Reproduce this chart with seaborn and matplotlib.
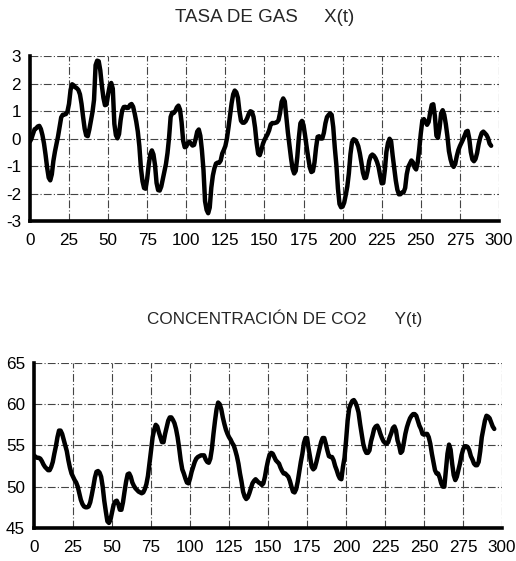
import numpy as np
import pandas as pd
import matplotlib
matplotlib.use("Agg")
import matplotlib.pyplot as plt
import seaborn as sns

# Gas furnace series: input gas rate X(t) and output CO2 concentration Y(t)
gas_rate = [
    -0.109, 0.000, 0.178, 0.339, 0.373, 0.441, 0.461, 0.348, 0.127, -0.180,
    -0.588, -1.055, -1.421, -1.520, -1.302, -0.814, -0.475, -0.193, 0.088, 0.435,
    0.771, 0.866, 0.875, 0.891, 0.987, 1.263, 1.775, 1.976, 1.934, 1.866,
    1.832, 1.767, 1.608, 1.265, 0.790, 0.360, 0.115, 0.088, 0.331, 0.645,
    0.960, 1.409, 2.670, 2.834, 2.812, 2.483, 1.929, 1.485, 1.214, 1.239,
    1.608, 1.905, 2.023, 1.815, 0.535, 0.122, 0.009, 0.164, 0.671, 1.019,
    1.146, 1.155, 1.112, 1.121, 1.223, 1.257, 1.157, 0.913, 0.620, 0.255,
    -0.280, -1.080, -1.551, -1.799, -1.825, -1.456, -0.944, -0.570, -0.431, -0.577,
    -0.960, -1.616, -1.875, -1.891, -1.746, -1.474, -1.201, -0.927, -0.524, 0.040,
    0.788, 0.943, 0.930, 1.006, 1.137, 1.198, 1.054, 0.595, -0.080, -0.314,
    -0.288, -0.153, -0.109, -0.187, -0.255, -0.229, -0.007, 0.254, 0.330, 0.102,
    -0.423, -1.139, -2.275, -2.594, -2.716, -2.510, -1.790, -1.346, -1.081, -0.910,
    -0.876, -0.885, -0.800, -0.544, -0.416, -0.271, 0.000, 0.403, 0.841, 1.285,
    1.607, 1.746, 1.683, 1.485, 0.993, 0.648, 0.577, 0.577, 0.632, 0.747,
    0.900, 0.993, 0.968, 0.790, 0.399, -0.161, -0.553, -0.603, -0.424, -0.194,
    -0.049, 0.060, 0.161, 0.301, 0.517, 0.566, 0.560, 0.573, 0.592, 0.671,
    0.933, 1.337, 1.460, 1.353, 0.772, 0.218, -0.237, -0.714, -1.099, -1.269,
    -1.175, -0.676, 0.033, 0.556, 0.643, 0.484, 0.109, -0.310, -0.697, -1.047,
    -1.218, -1.183, -0.873, -0.336, 0.063, 0.084, 0.000, 0.001, 0.209, 0.556,
    0.782, 0.858, 0.918, 0.862, 0.416, -0.336, -0.959, -1.813, -2.378, -2.499,
    -2.473, -2.330, -2.053, -1.739, -1.261, -0.569, -0.137, -0.024, -0.050, -0.135,
    -0.276, -0.534, -0.871, -1.243, -1.439, -1.422, -1.175, -0.813, -0.634, -0.582,
    -0.625, -0.713, -0.848, -1.039, -1.346, -1.628, -1.619, -1.149, -0.488, -0.160,
    -0.007, -0.092, -0.620, -1.086, -1.525, -1.858, -2.029, -2.024, -1.961, -1.952,
    -1.794, -1.302, -1.030, -0.918, -0.798, -0.867, -1.047, -1.123, -0.876, -0.395,
    0.185, 0.662, 0.709, 0.605, 0.501, 0.603, 0.943, 1.223, 1.249, 0.824,
    0.102, 0.025, 0.382, 0.922, 1.032, 0.866, 0.527, 0.093, -0.458, -0.748,
    -0.947, -1.029, -0.928, -0.645, -0.424, -0.276, -0.158, -0.033, 0.102, 0.251,
    0.280, 0.000, -0.493, -0.759, -0.824, -0.740, -0.528, -0.204, 0.034, 0.204,
    0.253, 0.195, 0.131, 0.017, -0.182, -0.262,
]

co2 = [
    53.8, 53.6, 53.5, 53.5, 53.4, 53.1, 52.7, 52.4, 52.2, 52.0,
    52.0, 52.4, 53.0, 54.0, 54.9, 56.0, 56.8, 56.8, 56.4, 55.7,
    55.0, 54.3, 53.2, 52.3, 51.6, 51.2, 50.8, 50.5, 50.0, 49.2,
    48.4, 47.9, 47.6, 47.5, 47.5, 47.6, 48.1, 49.0, 50.0, 51.1,
    51.8, 51.9, 51.7, 51.2, 50.0, 48.3, 47.0, 45.8, 45.6, 46.0,
    46.9, 47.8, 48.2, 48.3, 47.9, 47.2, 47.2, 48.1, 49.4, 50.6,
    51.5, 51.6, 51.2, 50.5, 50.1, 49.8, 49.6, 49.4, 49.3, 49.2,
    49.3, 49.7, 50.3, 51.3, 52.8, 54.4, 56.0, 56.9, 57.5, 57.3,
    56.6, 56.0, 55.4, 55.4, 56.4, 57.2, 58.0, 58.4, 58.4, 58.1,
    57.7, 57.0, 56.0, 54.7, 53.2, 52.1, 51.6, 51.0, 50.5, 50.4,
    51.0, 51.8, 52.4, 53.0, 53.4, 53.6, 53.7, 53.8, 53.8, 53.8,
    53.3, 53.0, 52.9, 53.4, 54.6, 56.4, 58.0, 59.4, 60.2, 60.0,
    59.4, 58.4, 57.6, 56.9, 56.4, 56.0, 55.7, 55.3, 55.0, 54.4,
    53.7, 52.8, 51.6, 50.6, 49.4, 48.8, 48.5, 48.7, 49.2, 49.8,
    50.4, 50.7, 50.9, 50.7, 50.5, 50.4, 50.2, 50.4, 51.2, 52.3,
    53.2, 53.9, 54.1, 54.0, 53.6, 53.2, 53.0, 52.8, 52.3, 51.9,
    51.6, 51.6, 51.4, 51.2, 50.7, 50.0, 49.4, 49.3, 49.7, 50.6,
    51.8, 53.0, 54.0, 55.3, 55.9, 55.9, 54.6, 53.5, 52.4, 52.1,
    52.3, 53.0, 53.8, 54.6, 55.4, 55.9, 55.9, 55.2, 54.4, 53.7,
    53.6, 53.6, 53.2, 52.5, 52.0, 51.4, 51.0, 50.9, 52.4, 53.5,
    55.6, 58.0, 59.5, 60.0, 60.4, 60.5, 60.2, 59.7, 59.0, 57.6,
    56.4, 55.2, 54.5, 54.1, 54.1, 54.4, 55.5, 56.2, 57.0, 57.3,
    57.4, 57.0, 56.4, 55.9, 55.5, 55.3, 55.2, 55.4, 56.0, 56.5,
    57.1, 57.3, 56.8, 55.6, 55.0, 54.1, 54.3, 55.3, 56.4, 57.2,
    57.8, 58.3, 58.6, 58.8, 58.8, 58.6, 58.0, 57.4, 57.0, 56.4,
    56.3, 56.4, 56.4, 56.0, 55.2, 54.0, 53.0, 52.0, 51.6, 51.6,
    51.1, 50.4, 50.0, 50.0, 52.0, 54.0, 55.1, 54.5, 52.8, 51.4,
    50.8, 51.2, 52.0, 52.8, 53.8, 54.5, 54.9, 54.9, 54.8, 54.4,
    53.7, 53.3, 52.8, 52.6, 52.6, 53.0, 54.3, 56.0, 57.0, 58.0,
    58.6, 58.5, 58.3, 57.8, 57.3, 57.0,
]

x_ticks = [0, 25, 50, 75, 100, 125, 150, 175, 200, 225, 250, 275, 300]
gas_ticks = [-3, -2, -1, 0, 1, 2, 3]
co2_ticks = [45, 50, 55, 60, 65]
gas_title = "TASA DE GAS     X(t)"
co2_title = "CONCENTRACIÓN DE CO2      Y(t)"

sns.set_style("white")
plt.rcParams["font.family"] = ["Liberation Sans", "DejaVu Sans"]

fig = plt.figure(figsize=(5.16, 5.61), dpi=100)
ax1 = fig.add_axes([0.058, 0.606, 0.909, 0.294])
ax2 = fig.add_axes([0.066, 0.059, 0.907, 0.294])

df_gas = pd.DataFrame({"t": np.arange(len(gas_rate)), "x": gas_rate})
df_co2 = pd.DataFrame({"t": np.arange(len(co2)), "y": co2})

sns.lineplot(data=df_gas, x="t", y="x", ax=ax1, color="black", linewidth=3.2)
sns.lineplot(data=df_co2, x="t", y="y", ax=ax2, color="black", linewidth=3.2)


def style_axes(ax, yticks):
    ax.set_xlim(x_ticks[0], x_ticks[-1])
    ax.set_ylim(yticks[0], yticks[-1])
    ax.set_xticks(x_ticks)
    ax.set_yticks(yticks)
    ax.set_xticklabels([str(v) for v in x_ticks])
    ax.set_yticklabels([str(v) for v in yticks])
    ax.set_xlabel("")
    ax.set_ylabel("")
    ax.grid(True, color="#444444", linewidth=0.8, linestyle=(0, (7, 2, 1, 2)))
    ax.set_axisbelow(True)
    for side in ("top", "right"):
        ax.spines[side].set_visible(False)
    for side in ("left", "bottom"):
        ax.spines[side].set_linewidth(2.6)
        ax.spines[side].set_color("black")
        ax.spines[side].set_zorder(5)
    ax.tick_params(axis="both", direction="inout", length=5, width=2.6,
                   color="black", labelsize=12.3, pad=4)
    ax.tick_params(axis="x", pad=6)
    for lab in ax.get_xticklabels() + ax.get_yticklabels():
        lab.set_color("black")


style_axes(ax1, gas_ticks)
style_axes(ax2, co2_ticks)

fig.text(0.513, 0.969, gas_title, ha="center", va="center", fontsize=13.5)
fig.text(0.552, 0.433, co2_title, ha="center", va="center", fontsize=12.3)

fig.savefig("out.png", dpi=100)
